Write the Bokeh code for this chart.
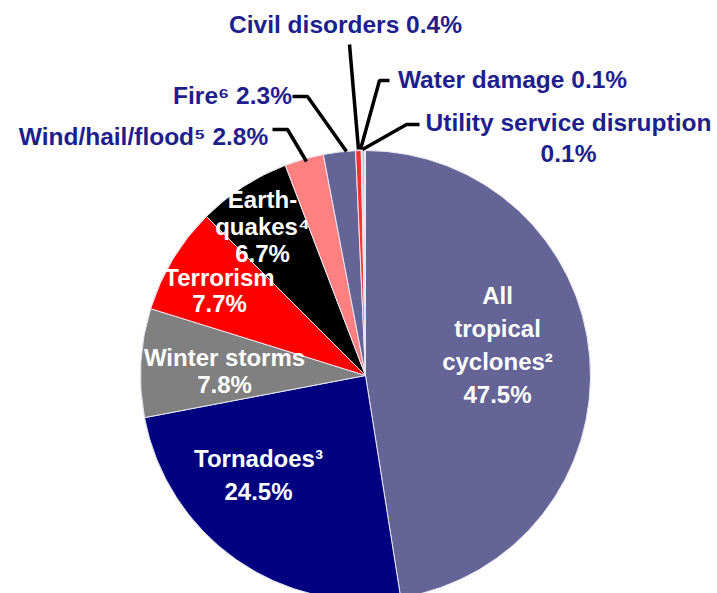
import math
from bokeh.plotting import figure
from bokeh.models import Range1d, ColumnDataSource
from bokeh.core.properties import value
from bokeh.embed import file_html
from bokeh.resources import INLINE

# ---- data ----
categories = ["All tropical cyclones", "Tornadoes", "Winter storms", "Terrorism",
              "Earthquakes", "Wind/hail/flood", "Fire", "Civil disorders",
              "Water damage", "Utility service disruption"]
shares = [47.5, 24.5, 7.8, 7.7, 6.7, 2.8, 2.3, 0.4, 0.1, 0.1]
colors = ["#646496", "#000080", "#808080", "#FF0000", "#000000", "#FF8080",
          "#646496", "#FF3030", "#C8C8C8", "#8A8A8A"]

# inside labels (lines) and outside labels
inside_labels = {
    "All tropical cyclones": ["All", "tropical", "cyclones\u00b2", "47.5%"],
    "Tornadoes": ["Tornadoes\u00b3", "24.5%"],
    "Winter storms": ["Winter storms", "7.8%"],
    "Terrorism": ["Terrorism", "7.7%"],
    "Earthquakes": ["Earth-", "quakes\u2074", "6.7%"],
}
outside_labels = {
    "Wind/hail/flood": ["Wind/hail/flood\u2075 2.8%"],
    "Fire": ["Fire\u2076 2.3%"],
    "Civil disorders": ["Civil disorders 0.4%"],
    "Water damage": ["Water damage 0.1%"],
    "Utility service disruption": ["Utility service disruption", "0.1%"],
}

W, H = 717, 593
CX, CY, R = 365, H - 375, 225

def Y(y):
    return H - y

p = figure(width=W, height=H, output_backend="svg", toolbar_location=None,
           x_range=Range1d(0, W), y_range=Range1d(0, H), min_border=0)
p.axis.visible = False
p.grid.visible = False
p.outline_line_color = None
p.background_fill_color = "white"

total = 100.0
starts, ends = [], []
cum = 0.0
for s in shares:
    starts.append(math.pi / 2 - 2 * math.pi * cum / total)
    cum += s
    ends.append(math.pi / 2 - 2 * math.pi * cum / total)

src = ColumnDataSource(dict(start=starts, end=ends, color=colors, name=categories))
p.wedge(x=CX, y=CY, radius=R, start_angle="start", end_angle="end",
        direction="clock", fill_color="color", line_color="#E8E8F4",
        line_width=1, source=src)

FONT = value("Liberation Sans")

# inside label anchor positions (image coords of first line center) and line spacing
inside_pos = {
    "All tropical cyclones": (497, 295, 33),
    "Tornadoes": (258, 458, 33),
    "Winter storms": (224, 357, 27),
    "Terrorism": (219, 277, 26),
    "Earthquakes": (262, 199, 27),
}
xs, ys, ts = [], [], []
for cat, lines in inside_labels.items():
    x0, y0, dy = inside_pos[cat]
    for i, t in enumerate(lines):
        xs.append(x0)
        ys.append(Y(y0 + i * dy))
        ts.append(t)
p.text(x=xs, y=ys, text=ts, text_color="white", text_font=FONT,
       text_font_style="bold", text_font_size="24px", text_align="center",
       text_baseline="middle")

# outside labels
outside_pos = {
    "Wind/hail/flood": (143, 136, 30),
    "Fire": (232, 95, 30),
    "Civil disorders": (345, 24, 30),
    "Water damage": (512, 79, 30),
    "Utility service disruption": (568, 122, 31),
}
xs, ys, ts = [], [], []
for cat, lines in outside_labels.items():
    x0, y0, dy = outside_pos[cat]
    for i, t in enumerate(lines):
        xs.append(x0)
        ys.append(Y(y0 + i * dy))
        ts.append(t)
p.text(x=xs, y=ys, text=ts, text_color="#1E1E8C", text_font=FONT,
       text_font_style="bold", text_font_size="24.5px", text_align="center",
       text_baseline="middle")

# leader lines (image coordinates)
leaders = [
    [(272, 129), (287, 129), (306, 161)],
    [(292, 96), (307, 96), (346, 151)],
    [(349, 44), (358, 149)],
    [(389, 80), (379, 80), (360, 149)],
    [(419, 124), (406, 124), (362, 149)],
]
p.multi_line(xs=[[pt[0] for pt in l] for l in leaders],
             ys=[[Y(pt[1]) for pt in l] for l in leaders],
             line_color="black", line_width=3.5)

open("out.html", "w").write(file_html(p, INLINE))
